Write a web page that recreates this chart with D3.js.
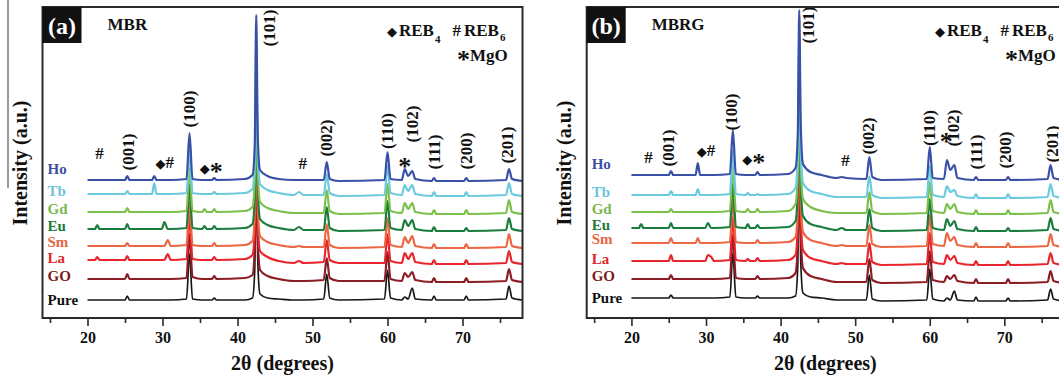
<!DOCTYPE html>
<html>
<head>
<meta charset="utf-8">
<title>XRD patterns MBR / MBRG</title>
<script src="https://cdn.jsdelivr.net/npm/d3@7"></script>
<style>
  body { margin: 0; background: #fff; }
  svg { display: block; }
  text { font-family: "Liberation Serif", "Times New Roman", serif; font-weight: bold; }
</style>
</head>
<body>
<script>
//--------------------------------
// DATA
//--------------------------------
const sampleNames = ["Pure", "GO", "La", "Sm", "Eu", "Gd", "Tb", "Ho"];

// 2theta points where the patterns were read
const twoTheta = [
  20, 21.0, 21.3, 21.6, 25.0, 25.3, 25.6, 28.6, 28.9, 29.2,
  29.9, 30.25, 30.7, 31.1, 33.2, 33.6, 34.0, 35.3, 35.6, 35.9,
  36.6, 36.9, 37.2, 41.0, 42.0, 42.3, 42.5, 42.7, 43.0, 44.0,
  45.5, 47.5, 48.2, 48.8, 51.5, 51.9, 52.3, 53.5, 59.6, 60.0,
  60.4, 61.9, 62.3, 62.75, 63.3, 63.7, 65.9, 66.2, 66.5, 70.2,
  70.5, 70.8, 75.8, 76.2, 76.6, 78];

// (a) MBR - intensity above each pattern's own baseline
const pureA = [0,0,0,0,0,4,0,0,0,0, 0,0,0,0,1,46,1,0,0,0, 0,2,0,0,2,30,160,40,6,2, 1,0,0,0,1,26,2,0,1,30, 2,0,3,1,12,1,0,4,0,0, 4,0,1,14,2,0];
const goA   = [3,3,3,3,3,8,3,3,3,3, 3,3,3,3,4,48,5,3,3,3, 3,6,3,4,7,35,160,45,12,6, 3,1,1,1,2,24,4,1,1,30, 3,1,9,5,10,2,0,4,0,0, 4,0,1,13,2,0];
const laA   = [4,4,7,4,4,8,4,4,4,4, 4,4,10,4,5,48,5,4,4,4, 4,7,4,5,9,35,160,45,13,7, 3,1,3,1,2,24,4,1,1,30, 3,1,11,5,11,2,0,4,0,0, 4,0,1,13,2,0];
const smA   = [2,2,2,2,2,5,2,2,2,2, 2,2,8,2,3,46,3,2,2,2, 2,5,2,3,7,35,160,45,12,6, 3,1,2,1,1,24,3,0,1,30, 3,1,11,5,12,2,0,4,0,0, 4,0,1,14,2,0];
const euA   = [2,2,6,2,2,7,2,2,2,2, 2,9,2,2,3,46,3,2,5,2, 2,5,2,3,7,35,160,45,12,6, 3,1,4,1,1,24,3,0,1,30, 3,1,11,5,11,2,0,4,0,0, 3,0,1,13,2,0];
const gdA   = [2,2,2,2,2,6,2,2,2,2, 2,2,2,2,3,46,3,2,5,2, 2,5,2,3,7,35,160,45,12,6, 3,1,1,1,1,24,3,0,1,30, 3,1,11,5,11,2,0,4,0,0, 4,0,1,14,2,0];
const tbA   = [2,2,2,2,2,5,2,2,13,2, 2,2,2,2,3,46,3,2,2,2, 2,4,2,3,7,35,160,45,12,6, 3,1,4,1,1,22,3,0,1,30, 3,1,11,5,11,2,0,4,0,0, 4,0,1,13,2,0];
const hoA   = [1,1,1,1,1,5,1,1,5,1, 1,1,1,1,2,48,2,1,1,1, 1,3,1,2,6,35,166,45,11,5, 2,1,1,1,1,19,2,0,1,29, 2,1,12,5,10,2,0,3,0,0, 3,0,1,12,2,0];
const offsetsA = [18, 36, 54, 70, 87, 104, 122, 137];

// (b) MBRG
const pureB = [3,3,3,3,3,6,3,3,3,3, 3,3,3,3,4,48,4,3,3,3, 3,5,3,3,5,35,165,40,8,4, 3,1,1,1,1,26,2,0,1,32, 2,0,3,1,10,1,0,4,0,0, 3,0,1,12,2,0];
const goB   = [4,4,4,4,4,8,4,4,4,4, 4,4,4,4,5,48,5,4,4,4, 4,7,4,5,10,40,165,50,15,7, 4,1,1,1,1,24,3,0,1,32, 3,1,7,4,8,2,0,4,0,0, 4,0,1,12,2,0];
const laB   = [4,4,4,4,4,10,4,4,4,4, 4,10,8,4,5,48,5,4,6,4, 4,7,4,5,10,40,165,50,15,7, 4,1,2,1,1,22,3,0,1,32, 3,1,10,5,9,2,0,4,0,0, 4,0,1,12,2,0];
const smB   = [4,4,4,4,4,9,4,4,9,4, 4,4,4,4,5,48,5,4,4,4, 4,7,4,5,10,40,165,50,15,7, 4,1,2,1,1,22,3,0,1,32, 3,1,14,6,10,2,0,4,0,0, 4,0,1,13,2,0];
const euB   = [3,3,7,3,3,8,3,3,3,3, 3,8,3,3,4,48,4,3,7,3, 3,6,3,4,10,40,165,50,15,7, 4,1,3,1,1,22,3,0,1,32, 3,1,12,5,10,2,0,4,0,0, 3,0,1,13,2,0];
const gdB   = [2,2,2,2,2,5,2,2,2,2, 2,2,2,2,3,48,3,2,5,2, 2,5,2,3,10,40,165,50,15,7, 3,1,1,1,1,22,3,0,1,32, 3,1,10,5,10,2,0,4,0,0, 4,0,1,14,2,0];
const tbB   = [3,3,3,3,3,7,3,3,9,3, 3,3,3,3,4,48,4,3,5,3, 3,4,3,4,10,40,165,50,15,7, 4,1,1,1,1,22,3,0,1,32, 3,1,12,6,8,2,0,4,0,0, 4,0,1,14,2,0];
const hoB   = [5,5,5,5,5,9,5,5,17,5, 5,5,5,5,6,50,6,5,5,5, 5,8,5,6,12,45,170,55,16,8, 5,2,3,2,1,23,3,0,1,33, 2,1,20,10,15,2,0,3,0,0, 3,0,1,15,2,0];
const offsetsB = [17, 35, 53, 71, 87, 104, 120, 138];

// peak indices: [label, 2theta, intensity level]
const hklA = [["(001)", 25.4, 166], ["(100)", 33.6, 209], ["(101)", 44.2, 290],
  ["(002)", 51.9, 180], ["(110)", 60.0, 187], ["(102)", 63.3, 194],
  ["(111)", 66.2, 166], ["(200)", 70.5, 167], ["(201)", 76.0, 173]];
const marksA = [["#", 21.6, 165], ["◆#", 30.3, 156], ["◆*", 36.5, 151], ["#", 48.7, 155], ["*", 62.3, 156]];

const hklB = [["(001)", 25.0, 170], ["(100)", 33.4, 206], ["(101)", 43.7, 293],
  ["(002)", 51.8, 182], ["(110)", 59.9, 190], ["(102)", 63.2, 190],
  ["(111)", 66.2, 166], ["(200)", 70.2, 168], ["(201)", 76.4, 174]];
const marksB = [["#", 22.3, 161], ["◆#", 30.0, 168], ["◆*", 36.4, 160], ["#", 48.7, 158], ["*", 62.2, 181]];

const xTicks = [20, 30, 40, 50, 60, 70];
const xMinorTicks = [15, 25, 35, 45, 55, 65, 75];
const xDomain = [14, 78];

//--------------------------------
// DRAW
//--------------------------------
const lineColors = ["#161616", "#8c1d24", "#e8252c", "#ec6743", "#1a7d3c", "#7cc04c", "#6ccadf", "#3a50a7"];
const nameColors = ["#111111", "#7c1c22", "#e0282e", "#e8653f", "#1d7a3a", "#7ab84a", "#6cc4dc", "#3d4fa1"];
// small vertical nudges so the names sit as in the figure
const nameNudge = [0, 3, 2, 4, 3, 3, 3, 11];

const svg = d3.select("body").append("svg")
    .attr("width", 1059)
    .attr("height", 383);

const plotTop = 7, plotBottom = 318;
const yScale = d3.scaleLinear().domain([0, 311]).range([plotBottom, plotTop]);

// stray crop edge on the far left of the figure
svg.append("line")
    .attr("x1", 8).attr("x2", 8).attr("y1", 0).attr("y2", 188)
    .attr("stroke", "#9a9a9a").attr("stroke-width", 2);

const panels = [
  {id: "a", tag: "(a)", title: "MBR", left: 42.5, right: 522.5,
   series: [pureA, goA, laA, smA, euA, gdA, tbA, hoA], offsets: offsetsA,
   hkl: hklA, marks: marksA, legendX: 387},
  {id: "b", tag: "(b)", title: "MBRG", left: 586.7, right: 1064,
   series: [pureB, goB, laB, smB, euB, gdB, tbB, hoB], offsets: offsetsB,
   hkl: hklB, marks: marksB, legendX: 935}
];

panels.forEach(drawPanel);

function drawPanel(p) {
  const x = d3.scaleLinear().domain(xDomain).range([p.left, p.right]);
  const g = svg.append("g").attr("class", "panel-" + p.id);

  svg.append("defs").append("clipPath").attr("id", "clip-" + p.id)
    .append("rect")
      .attr("x", p.left).attr("y", plotTop)
      .attr("width", p.right - p.left).attr("height", plotBottom - plotTop);

  const line = d3.line()
      .x(d => x(d[0]))
      .y(d => yScale(d[1]))
      .curve(d3.curveMonotoneX);

  // patterns, Pure first so Ho ends on top
  const traces = g.append("g").attr("clip-path", `url(#clip-${p.id})`);
  p.series.forEach((vals, i) => {
    if (vals.length !== twoTheta.length) console.log("length mismatch", p.id, sampleNames[i]);
    const pts = twoTheta.map((t, k) => [t, p.offsets[i] + vals[k]]);
    traces.append("path")
        .datum(pts)
        .attr("d", line)
        .attr("fill", "none")
        .attr("stroke", lineColors[i])
        .attr("stroke-width", i === 0 ? 1.7 : 2.2)
        .attr("stroke-linejoin", "round");
  });

  // sample names
  p.series.forEach((vals, i) => {
    g.append("text")
        .attr("x", p.left + 5)
        .attr("y", yScale(p.offsets[i] + vals[0]) - nameNudge[i])
        .attr("dy", "0.35em")
        .attr("font-size", 15)
        .attr("fill", nameColors[i])
        .text(sampleNames[i]);
  });

  // hkl labels
  p.hkl.forEach(([lab, t, lev]) => {
    g.append("text")
        .attr("transform", `translate(${x(t)},${yScale(lev)}) rotate(-90)`)
        .attr("text-anchor", "middle")
        .attr("dy", "0.33em")
        .attr("font-size", 17)
        .attr("fill", "#111")
        .text(lab);
  });

  // phase markers
  p.marks.forEach(([str, t, lev]) => {
    const txt = g.append("text")
        .attr("x", x(t))
        .attr("y", yScale(lev) + 6)
        .attr("text-anchor", "middle")
        .attr("fill", "#111");
    addSymbols(txt, str);
  });

  // frame
  g.append("rect")
      .attr("x", p.left).attr("y", plotTop)
      .attr("width", p.right - p.left).attr("height", plotBottom - plotTop)
      .attr("fill", "none")
      .attr("stroke", "#2a2a2a")
      .attr("stroke-width", 2);

  // x axis
  const axis = d3.axisBottom(x).tickValues(xTicks).tickSize(8).tickPadding(6).tickFormat(d3.format("d"));
  const minor = d3.axisBottom(x).tickValues(xMinorTicks).tickSize(5).tickFormat("");
  [axis, minor].forEach(a => {
    const ax = g.append("g")
        .attr("transform", `translate(0,${plotBottom})`)
        .call(a);
    ax.select(".domain").remove();
    ax.selectAll("line").attr("stroke", "#2a2a2a").attr("stroke-width", 1.6);
    ax.selectAll("text")
        .attr("font-size", 16)
        .attr("fill", "#111");
    ax.attr("font-family", null).attr("font-size", null);
  });

  g.append("text")
      .attr("x", (p.left + p.right) / 2)
      .attr("y", 370)
      .attr("text-anchor", "middle")
      .attr("font-size", 20)
      .attr("fill", "#111")
      .text("2θ (degrees)");

  g.append("text")
      .attr("transform", `translate(${p.left - 22},163) rotate(-90)`)
      .attr("text-anchor", "middle")
      .attr("dy", "0.33em")
      .attr("font-size", 20)
      .attr("fill", "#111")
      .text("Intensity (a.u.)");

  // panel tag and title
  g.append("rect")
      .attr("x", p.left).attr("y", plotTop)
      .attr("width", 39).attr("height", 36)
      .attr("fill", "#111");
  g.append("text")
      .attr("x", p.left + 19.5).attr("y", 34)
      .attr("text-anchor", "middle")
      .attr("font-size", 24)
      .attr("fill", "#fff")
      .text(p.tag);
  g.append("text")
      .attr("x", p.left + 65).attr("y", 30)
      .attr("font-size", 17)
      .attr("fill", "#111")
      .text(p.title);

  // phase legend
  const row1 = g.append("text").attr("x", p.legendX).attr("y", 36).attr("fill", "#111");
  row1.append("tspan").attr("font-family", "DejaVu Sans").attr("font-size", 13).text("◆");
  row1.append("tspan").attr("dx", 2).attr("font-size", 17).text("REB");
  row1.append("tspan").attr("dx", 1).attr("dy", 7).attr("font-size", 11).text("4");
  row1.append("tspan").attr("dx", 12).attr("dy", -7).attr("font-size", 17).text("#");
  row1.append("tspan").attr("dx", 3).attr("font-size", 17).text("REB");
  row1.append("tspan").attr("dx", 1).attr("dy", 5).attr("font-size", 11).text("6");

  const row2 = g.append("text").attr("x", p.legendX + 70).attr("y", 61).attr("fill", "#111");
  row2.append("tspan").attr("font-size", 26).attr("dy", 7).text("*");
  row2.append("tspan").attr("font-size", 17).attr("dy", -7).text("MgO");
}

function addSymbols(txt, str) {
  let shift = 0;
  for (const ch of str) {
    const ts = txt.append("tspan").text(ch);
    let want = 0;
    if (ch === "◆") {
      ts.attr("font-family", "DejaVu Sans").attr("font-size", 13);
    } else if (ch === "*") {
      ts.attr("font-size", 26);
      want = 7;
    } else {
      ts.attr("font-size", 17);
    }
    ts.attr("dy", want - shift);
    shift = want;
  }
}
</script>
</body>
</html>
